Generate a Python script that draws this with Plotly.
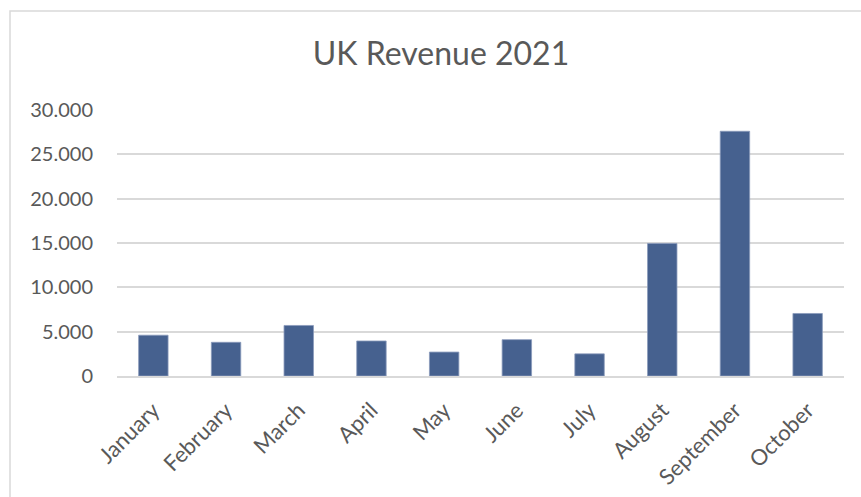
import plotly.graph_objects as go

# Monthly UK revenue, 2021
months = ["January", "February", "March", "April", "May", "June",
          "July", "August", "September", "October"]
revenue = [4600, 3800, 5700, 3950, 2700, 4100, 2500, 14950, 27600, 7050]

# Axis ticks
y_ticks = [0, 5000, 10000, 15000, 20000, 25000, 30000]

BAR = "#46618F"
TEXT = "#595959"
GRID = "#D9D9D9"
FONT = "Lato, Open Sans, sans-serif"

W, H = 861, 497
ML, MR, MT, MB = 117, 17, 110, 121

fig = go.Figure(
    go.Bar(
        x=months,
        y=revenue,
        marker=dict(color=BAR, line=dict(color="#8A9BBB", width=0.8)),
        hoverinfo="x+y",
    )
)

# Chart-area frame (light grey border)
pw = W - ML - MR
ph = H - MT - MB
fig.add_shape(
    type="rect", xref="paper", yref="paper",
    x0=(10 - ML) / pw, x1=(W + 10 - ML) / pw,
    y0=(H - MB - (H + 10)) / ph, y1=(H - MB - 11) / ph,
    line=dict(color=GRID, width=1.5), fillcolor="rgba(0,0,0,0)", layer="below",
)

fig.update_layout(
    width=W, height=H,
    margin=dict(l=ML, r=MR, t=MT, b=MB, autoexpand=False),
    paper_bgcolor="white", plot_bgcolor="white",
    separators=",.",
    bargap=0.595,
    showlegend=False,
    font=dict(family=FONT, color=TEXT),
    title=dict(
        text="UK Revenue 2021",
        x=441 / W, xref="container", xanchor="center",
        y=1 - 54 / H, yref="container", yanchor="middle",
        font=dict(family=FONT, size=32, color=TEXT),
    ),
    xaxis=dict(
        tickangle=-45,
        tickfont=dict(size=22, color=TEXT),
        showgrid=False, showline=True, linecolor=GRID, linewidth=1.5,
        ticks="",
        ticklabelstandoff=11,
        automargin=False,
    ),
    yaxis=dict(
        range=[0, 30000],
        tickvals=y_ticks,
        tickformat=",d",
        tickfont=dict(size=20, color=TEXT),
        showgrid=True, gridcolor=GRID, gridwidth=1.5,
        zeroline=False, showline=False, ticks="",
        ticklabelstandoff=23,
        automargin=False,
    ),
)

fig.write_html("out.html")
